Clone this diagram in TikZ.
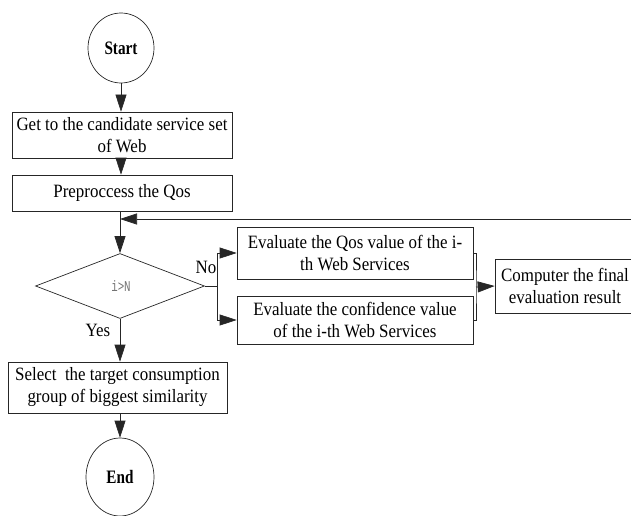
\documentclass[tikz,border=0pt]{standalone}
\usepackage{fontspec}
\setmainfont{Liberation Serif}[FakeStretch=0.9]
\newfontfamily\termfont{Liberation Serif}[FakeStretch=0.8]
\newfontfamily\condfont{Liberation Mono}[FakeStretch=0.72]
\usetikzlibrary{arrows.meta,positioning,calc,shapes.geometric}

\begin{document}
\begin{tikzpicture}[x=1pt, y=-1pt, font=\fontsize{18.8}{22}\selectfont,
  line width=0.7pt, draw=black!85,
  proc/.style={rectangle, draw, inner sep=1pt, align=center},
  term/.style={ellipse, draw, inner sep=0pt, font=\termfont\fontsize{19}{22}\selectfont\bfseries},
  arr/.style={-{Triangle[length=17pt, width=11pt]}},
  lbl/.style={inner sep=0pt}]
\useasboundingbox (0,0) rectangle (631,516);
% main column
\node[term, minimum width=66pt, minimum height=70pt] (start) at (121,48) {Start};
\node[proc, minimum width=220pt, minimum height=46pt] (getset) at (122,135)
  {Get to the candidate service set\\ of Web};
\node[proc, minimum width=220pt, minimum height=36pt] (preproc) at (122,193) {Preproccess the Qos};
\node[diamond, draw, inner sep=0pt, minimum width=169pt, minimum height=65pt] (cond) at (120,286) {};
\node[lbl, text=black!55, font=\condfont\fontsize{15}{17}\selectfont] (cmp) at (121,286) {i>N};
\node[proc, minimum width=219pt, minimum height=51pt] (select) at (117.5,387.5)
  {Select\ \ the target consumption\\ group of biggest similarity};
\node[term, minimum width=68pt, minimum height=78pt] (stop) at (120,477) {End};
% right branch
\node[proc, minimum width=236pt, minimum height=52pt] (evalqos) at (355,253)
  {Evaluate the Qos value of the i-\\ th Web Services};
\node[proc, minimum width=236pt, minimum height=48pt] (evalconf) at (355,320)
  {Evaluate the confidence value\\ of the i-th Web Services};
\node[proc, minimum width=140pt, minimum height=54pt] (final) at (565,286)
  {Computer the final\\ evaluation result};
% labels
\node[lbl] (no) at (206,267) {No};
\node[lbl] (yes) at (98,330) {Yes};
% helper points
\coordinate (fb) at (632,219);
\coordinate (split) at (217,286);
\coordinate (merge) at (476,287);
% connectors
\draw[arr] (start) -- (start |- getset.north);
\draw[arr] (start |- getset.south) -- (start |- preproc.north);
\draw[arr] (cond.north |- preproc.south) -- (cond.north);
\draw[arr] (fb) -- (cond.north |- fb);
\draw (cond.east) -- (split);
\draw[arr] (split) |- (evalqos.west);
\draw[arr] (split) |- (evalconf.west);
\draw (evalqos.east) -| (merge) |- (evalconf.east);
\draw[arr] (merge) -- (final.west);
\draw[arr] (cond.south) -- (cond.south |- select.north);
\draw[arr] (cond.south |- select.south) -- (stop);
\end{tikzpicture}
\end{document}
